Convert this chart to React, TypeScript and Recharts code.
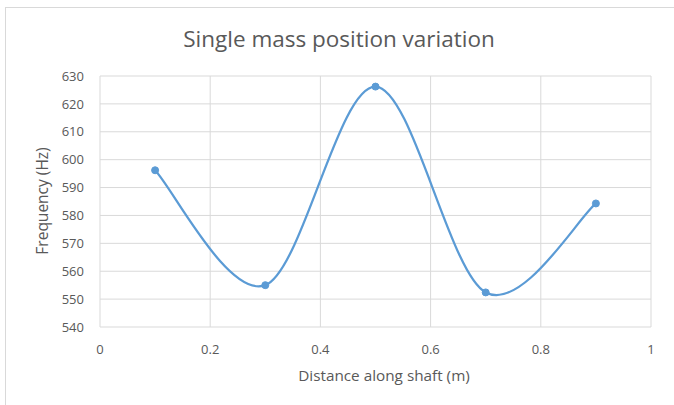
import React from 'react';
import { LineChart, Line, XAxis, YAxis, CartesianGrid } from 'recharts';

const positions = [0.1, 0.3, 0.5, 0.7, 0.9];
const frequencies = [596.2, 555.0, 626.2, 552.4, 584.3];
const xTicks = [0, 0.2, 0.4, 0.6, 0.8, 1];
const yTicks = [540, 550, 560, 570, 580, 590, 600, 610, 620, 630];
const title = 'Single mass position variation';
const xTitle = 'Distance along shaft (m)';
const yTitle = 'Frequency (Hz)';

const data = positions.map((x, i) => ({ x, f: frequencies[i] }));

// Excel-like smoothed line (Catmull-Rom as cubic Bezier)
const excelSmooth = (context: any) => {
  let pts: number[][] = [];
  return {
    areaStart() {},
    areaEnd() {},
    lineStart() {
      pts = [];
    },
    lineEnd() {
      const n = pts.length;
      if (!n) return;
      context.moveTo(pts[0][0], pts[0][1]);
      for (let i = 0; i < n - 1; i++) {
        const p0 = pts[Math.max(i - 1, 0)];
        const p1 = pts[i];
        const p2 = pts[i + 1];
        const p3 = pts[Math.min(i + 2, n - 1)];
        const c1x = p1[0] + (p2[0] - p0[0]) / 6;
        const c1y = p1[1] + (p2[1] - p0[1]) / 6;
        const c2x = p2[0] - (p3[0] - p1[0]) / 6;
        const c2y = p2[1] - (p3[1] - p1[1]) / 6;
        context.bezierCurveTo(c1x, c1y, c2x, c2y, p2[0], p2[1]);
      }
    },
    point(x: number, y: number) {
      pts.push([+x, +y]);
    },
  };
};

const FONT = '"Open Sans", sans-serif';
const TEXT = '#595959';
const BLUE = '#5b9bd5';

export default function App() {
  return (
    <div style={{ position: 'fixed', left: 0, top: 0, width: 674, height: 405, background: '#fff', fontFamily: FONT }}>
      <div
        style={{
          position: 'absolute',
          left: 5,
          top: 7,
          width: 680,
          height: 410,
          border: '1px solid #d9d9d9',
          boxSizing: 'border-box',
        }}
      />
      <LineChart
        width={674}
        height={405}
        data={data}
        margin={{ top: 76, right: 23, left: 0, bottom: 0 }}
        style={{ position: 'absolute', left: 0, top: 0 }}
      >
        <CartesianGrid stroke="#d9d9d9" strokeWidth={1} />
        <XAxis
          dataKey="x"
          type="number"
          domain={[0, 1]}
          ticks={xTicks}
          height={78}
          axisLine={false}
          tickLine={false}
          tickSize={0}
          tickMargin={18}
          interval={0}
          tick={{ fill: TEXT, fontSize: 13, fontFamily: FONT }}
        />
        <YAxis
          type="number"
          domain={[540, 630]}
          ticks={yTicks}
          width={100}
          axisLine={false}
          tickLine={false}
          tickSize={0}
          tickMargin={16}
          interval={0}
          tick={{ fill: TEXT, fontSize: 13, fontFamily: FONT }}
        />
        <Line
          dataKey="f"
          type={excelSmooth as any}
          stroke={BLUE}
          strokeWidth={2.25}
          dot={{ r: 3.5, fill: BLUE, stroke: BLUE, strokeWidth: 1 }}
          isAnimationActive={false}
        />
      </LineChart>
      <div
        style={{
          position: 'absolute',
          left: 339,
          top: 38,
          transform: 'translate(-50%, -50%)',
          fontSize: 22.5,
          color: TEXT,
          whiteSpace: 'nowrap',
        }}
      >
        {title}
      </div>
      <div
        style={{
          position: 'absolute',
          left: 384,
          top: 375,
          transform: 'translate(-50%, -50%)',
          fontSize: 15.3,
          color: TEXT,
          whiteSpace: 'nowrap',
        }}
      >
        {xTitle}
      </div>
      <div
        style={{
          position: 'absolute',
          left: 42,
          top: 201,
          transform: 'translate(-50%, -50%) rotate(-90deg)',
          fontSize: 15.5,
          color: TEXT,
          whiteSpace: 'nowrap',
        }}
      >
        {yTitle}
      </div>
    </div>
  );
}
